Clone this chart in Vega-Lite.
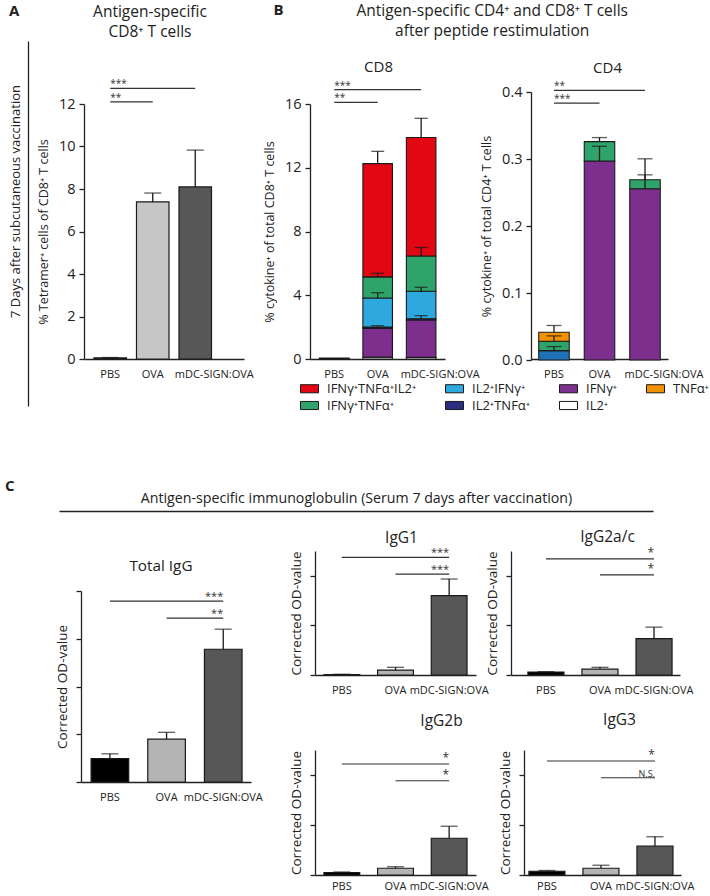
{
"$schema":"https://vega.github.io/schema/vega-lite/v6.json",
"padding":{"left":5,"top":3,"right":2,"bottom":2},
"config":{
 "font":"Open Sans",
 "view":{"stroke":null},
 "axis":{"grid":false,"domainColor":"#222","tickColor":"#222","labelColor":"#222","titleColor":"#222","domainWidth":1.3,"tickWidth":1.3,"titleFontWeight":"normal"},
 "title":{"fontWeight":"normal","color":"#222","fontSize":15}
},
"resolve":{"scale":{"color":"independent","fill":"independent"},"legend":{"color":"independent","fill":"independent"}},
"align":"none",
"spacing":10,
"vconcat":[
 {"spacing":9,"align":"none","hconcat":[
  {"spacing":8,"align":"none",
   "title":{"text":"A","anchor":"start","frame":"bounds","fontWeight":"bold","fontSize":15,"offset":-14},
   "hconcat":[
   {"width":1,"height":255,
    "data":{"values":[{"v":0}]},
    "mark":{"type":"point","size":0,"opacity":0},
    "encoding":{"y":{"field":"v","type":"quantitative","scale":{"domain":[0,1],"range":[302,-63]},"axis":{"ticks":false,"labels":false,"title":"7 Days after subcutaneous vaccination","titleFontSize":13,"titlePadding":6,"titleY":97}}}
   },
   {"width":160,"height":255,
    "title":{"text":["Antigen-specific","CD8⁺ T cells"],"fontSize":15.5,"lineHeight":20,"offset":39,"dx":-14},
    "layer":[
     {"data":{"values":[{"g":"PBS","v":0.05,"e":0.07},{"g":"OVA","v":7.39,"e":7.81},{"g":"mDC-SIGN:OVA","v":8.1,"e":9.83}]},
      "layer":[
       {"mark":{"type":"bar","stroke":"#1a1a1a","strokeWidth":1.2},
        "encoding":{
         "x":{"field":"g","type":"nominal","scale":{"domain":["PBS","OVA","mDC-SIGN:OVA"],"paddingInner":0.235,"paddingOuter":0.5,"align":0.235},"axis":{"title":null,"ticks":false,"labelAngle":0,"labelFontSize":11,"labelPadding":9,"labelOffset":{"condition":{"test":"datum.value === 'mDC-SIGN:OVA'","value":19},"value":0}}},
         "y":{"field":"v","type":"quantitative","scale":{"domain":[0,12],"nice":false},"axis":{"values":[0,2,4,6,8,10,12],"title":"% Tetramer⁺ cells of CD8⁺ T cells","titleFontSize":12.5,"labelFontSize":14.5,"tickSize":5,"labelPadding":4,"titlePadding":8}},
         "fill":{"field":"g","type":"nominal","scale":{"domain":["PBS","OVA","mDC-SIGN:OVA"],"range":["#111111","#c6c6c6","#575757"]},"legend":null}}},
       {"mark":{"type":"rule","color":"#1a1a1a","strokeWidth":1.3},"encoding":{"x":{"field":"g","type":"nominal"},"y":{"field":"v","type":"quantitative"},"y2":{"field":"e"}}},
       {"mark":{"type":"tick","orient":"horizontal","color":"#1a1a1a","thickness":1.3,"size":17},"encoding":{"x":{"field":"g","type":"nominal"},"y":{"field":"e","type":"quantitative"}}}
      ]},
     {"data":{"values":[{"a":"PBS","b":"mDC-SIGN:OVA","y":12.74,"t":"***"},{"a":"PBS","b":"OVA","y":12.1,"t":"**"}]},
      "layer":[
       {"mark":{"type":"rule","color":"#333","strokeWidth":1.2},"encoding":{"x":{"field":"a","type":"nominal"},"x2":{"field":"b"},"y":{"field":"y","type":"quantitative"}}},
       {"mark":{"type":"text","align":"left","baseline":"bottom","dy":1,"fontSize":10,"color":"#333"},"encoding":{"x":{"field":"a","type":"nominal"},"y":{"field":"y","type":"quantitative"},"text":{"field":"t"}}}
      ]},
     {"mark":{"type":"text","fontSize":13,"color":"#222","dx":-22},"encoding":{"x":{"datum":"mDC-SIGN:OVA","type":"nominal"},"y":{"datum":11.6,"type":"quantitative"},"text":{"value":"N.S."}}}
    ]}
  ]},
  {"title":{"text":"B","anchor":"start","frame":"bounds","fontWeight":"bold","fontSize":15,"offset":-14,"dx":10},
   "resolve":{"scale":{"color":"independent"},"legend":{"color":"independent"}},
   "align":"none",
   "vconcat":[
    {"title":{"text":["Antigen-specific CD4⁺ and CD8⁺ T cells","after peptide restimulation"],"anchor":"middle","frame":"bounds","fontSize":15.5,"lineHeight":20,"offset":20,"dx":6},
     "spacing":0,
     "align":"none",
     "hconcat":[
      {"width":135,"height":255,
       "title":{"text":"CD8","fontSize":15,"offset":6,"frame":"group","dx":1},
       "layer":[
        {"data":{"values":[
          {"g":"PBS","c":"IL2⁺","v":0.01,"k":1},{"g":"PBS","c":"IFNγ⁺","v":0.02,"k":2},{"g":"PBS","c":"IFNγ⁺TNFα⁺IL2⁺","v":0.03,"k":6},
          {"g":"OVA","c":"IL2⁺","v":0.12,"k":1},{"g":"OVA","c":"IFNγ⁺","v":1.8,"k":2},{"g":"OVA","c":"IL2⁺TNFα⁺","v":0.08,"k":3},{"g":"OVA","c":"IL2⁺IFNγ⁺","v":1.83,"k":4},{"g":"OVA","c":"IFNγ⁺TNFα⁺","v":1.32,"k":5},{"g":"OVA","c":"IFNγ⁺TNFα⁺IL2⁺","v":7.11,"k":6},
          {"g":"mDC-SIGN:OVA","c":"IL2⁺","v":0.1,"k":1},{"g":"mDC-SIGN:OVA","c":"IFNγ⁺","v":2.35,"k":2},{"g":"mDC-SIGN:OVA","c":"IL2⁺TNFα⁺","v":0.08,"k":3},{"g":"mDC-SIGN:OVA","c":"IL2⁺IFNγ⁺","v":1.72,"k":4},{"g":"mDC-SIGN:OVA","c":"IFNγ⁺TNFα⁺","v":2.21,"k":5},{"g":"mDC-SIGN:OVA","c":"IFNγ⁺TNFα⁺IL2⁺","v":7.44,"k":6}]},
         "mark":{"type":"bar","stroke":"#1a1a1a","strokeWidth":1.1},
         "encoding":{
          "x":{"field":"g","type":"nominal","scale":{"domain":["PBS","OVA","mDC-SIGN:OVA"],"paddingInner":0.32,"paddingOuter":0.213,"align":0.51},"axis":{"title":null,"ticks":false,"labelAngle":0,"labelFontSize":11,"labelPadding":9,"labelOffset":{"condition":{"test":"datum.value === 'mDC-SIGN:OVA'","value":19},"value":0}}},
          "y":{"field":"v","type":"quantitative","stack":"zero","scale":{"domain":[0,16],"nice":false},"axis":{"values":[0,4,8,12,16],"title":"% cytokine⁺ of total CD8⁺ T cells","titleFontSize":12.5,"labelFontSize":14.5,"tickSize":5,"labelPadding":4,"titlePadding":8}},
          "color":{"field":"c","type":"nominal","scale":{"domain":["IFNγ⁺TNFα⁺IL2⁺","IL2⁺IFNγ⁺","IFNγ⁺","TNFα⁺","IFNγ⁺TNFα⁺","IL2⁺TNFα⁺","IL2⁺"],"range":["#e30613","#2fa8df","#7d2f8e","#f39200","#2ea46a","#2b2d82","#ffffff"]},
            "legend":{"title":null,"orient":"none","legendX":-10,"legendY":275,"direction":"horizontal","columns":4,"symbolType":"M-1,-0.45H1V0.45H-1Z","symbolSize":324,"symbolStrokeColor":"#222","symbolStrokeWidth":1,"labelFontSize":13,"labelColor":"#222","columnPadding":26,"rowPadding":-3,"gridAlign":"each","labelOffset":8}},
          "order":{"field":"k","type":"quantitative"}}},
        {"data":{"values":[
          {"g":"OVA","lo":2.0,"hi":2.09},{"g":"OVA","lo":3.83,"hi":4.16},{"g":"OVA","lo":5.15,"hi":5.38},{"g":"OVA","lo":12.26,"hi":13.03},
          {"g":"mDC-SIGN:OVA","lo":2.53,"hi":2.72},{"g":"mDC-SIGN:OVA","lo":4.25,"hi":4.5},{"g":"mDC-SIGN:OVA","lo":6.46,"hi":7.0},{"g":"mDC-SIGN:OVA","lo":13.9,"hi":15.1}]},
         "layer":[
          {"mark":{"type":"rule","color":"#1a1a1a","strokeWidth":1.3},"encoding":{"x":{"field":"g","type":"nominal"},"y":{"field":"lo","type":"quantitative"},"y2":{"field":"hi"}}},
          {"mark":{"type":"tick","orient":"horizontal","color":"#1a1a1a","thickness":1.3,"size":13},"encoding":{"x":{"field":"g","type":"nominal"},"y":{"field":"hi","type":"quantitative"}}}
         ]},
        {"data":{"values":[{"a":"PBS","b":"mDC-SIGN:OVA","y":16.9,"t":"***"},{"a":"PBS","b":"OVA","y":16.1,"t":"**"}]},
         "layer":[
          {"mark":{"type":"rule","color":"#333","strokeWidth":1.2},"encoding":{"x":{"field":"a","type":"nominal"},"x2":{"field":"b"},"y":{"field":"y","type":"quantitative"}}},
          {"mark":{"type":"text","align":"left","baseline":"bottom","dy":1,"fontSize":10,"color":"#333"},"encoding":{"x":{"field":"a","type":"nominal"},"y":{"field":"y","type":"quantitative"},"text":{"field":"t"}}}
         ]},
        {"mark":{"type":"text","fontSize":13,"color":"#222","dx":-22},"encoding":{"x":{"datum":"mDC-SIGN:OVA","type":"nominal"},"y":{"datum":14.9,"type":"quantitative"},"text":{"value":"N.S."}}}
       ]},
      {"width":137,"height":255,
       "title":{"text":"CD4","fontSize":15,"offset":5,"frame":"group","dx":8},
       "layer":[
        {"data":{"values":[
          {"g":"PBS","c":"IL2⁺IFNγ⁺","v":0.014,"k":4},{"g":"PBS","c":"IFNγ⁺TNFα⁺","v":0.014,"k":5},{"g":"PBS","c":"TNFα⁺","v":0.0135,"k":7},
          {"g":"OVA","c":"IFNγ⁺","v":0.297,"k":2},{"g":"OVA","c":"IFNγ⁺TNFα⁺","v":0.029,"k":5},
          {"g":"mDC-SIGN:OVA","c":"IFNγ⁺","v":0.2555,"k":2},{"g":"mDC-SIGN:OVA","c":"IFNγ⁺TNFα⁺","v":0.0135,"k":5}]},
         "mark":{"type":"bar","stroke":"#1a1a1a","strokeWidth":1.1},
         "encoding":{
          "x":{"field":"g","type":"nominal","scale":{"domain":["PBS","OVA","mDC-SIGN:OVA"],"paddingInner":0.33,"paddingOuter":0.17,"align":0.5},"axis":{"title":null,"ticks":false,"labelAngle":0,"labelFontSize":11,"labelPadding":9,"labelOffset":{"condition":{"test":"datum.value === 'mDC-SIGN:OVA'","value":19},"value":0}}},
          "y":{"field":"v","type":"quantitative","stack":"zero","scale":{"domain":[0,0.4],"nice":false,"range":[256,-12]},"axis":{"values":[0,0.1,0.2,0.3,0.4],"format":".1f","title":"% cytokine⁺ of total CD4⁺ T cells","titleFontSize":12.5,"labelFontSize":14.5,"tickSize":5,"labelPadding":4,"titlePadding":8}},
          "color":{"condition":{"test":"datum.c === 'IL2⁺IFNγ⁺'","value":"#1f72b8"},"field":"c","type":"nominal","scale":{"domain":["IFNγ⁺TNFα⁺IL2⁺","IL2⁺IFNγ⁺","IFNγ⁺","TNFα⁺","IFNγ⁺TNFα⁺","IL2⁺TNFα⁺","IL2⁺"],"range":["#e30613","#2fa8df","#7d2f8e","#f39200","#2ea46a","#2b2d82","#ffffff"]}},
          "order":{"field":"k","type":"quantitative"}}},
        {"data":{"values":[
          {"g":"PBS","lo":0.014,"hi":0.02},{"g":"PBS","lo":0.028,"hi":0.036},{"g":"PBS","lo":0.0415,"hi":0.0515},
          {"g":"OVA","lo":0.297,"hi":0.319},{"g":"OVA","lo":0.326,"hi":0.332},
          {"g":"mDC-SIGN:OVA","lo":0.2555,"hi":0.2764},{"g":"mDC-SIGN:OVA","lo":0.269,"hi":0.3003}]},
         "layer":[
          {"mark":{"type":"rule","color":"#1a1a1a","strokeWidth":1.3},"encoding":{"x":{"field":"g","type":"nominal"},"y":{"field":"lo","type":"quantitative"},"y2":{"field":"hi"}}},
          {"mark":{"type":"tick","orient":"horizontal","color":"#1a1a1a","thickness":1.3,"size":15},"encoding":{"x":{"field":"g","type":"nominal"},"y":{"field":"hi","type":"quantitative"}}}
         ]},
        {"data":{"values":[{"a":"PBS","b":"mDC-SIGN:OVA","y":0.4025,"t":"**"},{"a":"PBS","b":"OVA","y":0.3835,"t":"***"}]},
         "layer":[
          {"mark":{"type":"rule","color":"#333","strokeWidth":1.2},"encoding":{"x":{"field":"a","type":"nominal"},"x2":{"field":"b"},"y":{"field":"y","type":"quantitative"}}},
          {"mark":{"type":"text","align":"left","baseline":"bottom","dy":1,"fontSize":10,"color":"#333"},"encoding":{"x":{"field":"a","type":"nominal"},"y":{"field":"y","type":"quantitative"},"text":{"field":"t"}}}
         ]},
        {"mark":{"type":"text","fontSize":13,"color":"#222","dx":-19},"encoding":{"x":{"datum":"mDC-SIGN:OVA","type":"nominal"},"y":{"datum":0.356,"type":"quantitative"},"text":{"value":"N.S."}}}
       ]}
     ]}
   ]}
 ]},
 {"spacing":18,"align":"none","vconcat":[
  {"width":627,"height":1,
   "title":{"text":"C","anchor":"start","frame":"group","fontWeight":"bold","fontSize":15,"dx":-23,"offset":-3},
   "data":{"values":[{"v":0}]},
   "mark":{"type":"point","size":0,"opacity":0},
   "encoding":{"x":{"field":"v","type":"quantitative","scale":{"domain":[0,1],"range":[31,625]},"axis":{"orient":"top","ticks":false,"labels":false,"title":"Antigen-specific immunoglobulin (Serum 7 days after vaccination)","titleFontSize":14.2,"titlePadding":6}}}
  },
  {"spacing":26,"align":"none","hconcat":[
   {"width":1,"height":1,"data":{"values":[{"v":0}]},"mark":{"type":"point","size":0,"opacity":0}},
   {"width":170,"height":231,
    "title":{"text":"Total IgG","fontSize":15.3,"offset":-23,"dx":-5},
    "layer":[
     {"data":{"values":[{"g":"PBS","v":0.49,"e":0.59},{"g":"OVA","v":0.9,"e":1.04},{"g":"mDC-SIGN:OVA","v":2.78,"e":3.2}]},
      "layer":[
       {"mark":{"type":"bar","stroke":"#1a1a1a","strokeWidth":1.2},
        "encoding":{
         "x":{"field":"g","type":"nominal","scale":{"domain":["PBS","OVA","mDC-SIGN:OVA"],"paddingInner":0.336,"paddingOuter":0.168,"align":0.53},"axis":{"title":null,"ticks":false,"labelAngle":0,"labelFontSize":11,"labelPadding":9}},
         "y":{"field":"v","type":"quantitative","scale":{"domain":[0,4],"nice":false,"range":[231,40]},"axis":{"values":[0,1,2,3,4],"labels":false,"title":"Corrected OD-value","titleFontSize":13.5,"tickSize":5,"titlePadding":6}},
         "fill":{"field":"g","type":"nominal","scale":{"domain":["PBS","OVA","mDC-SIGN:OVA"],"range":["#000000","#b4b4b4","#575757"]},"legend":null}}},
       {"mark":{"type":"rule","color":"#1a1a1a","strokeWidth":1.3},"encoding":{"x":{"field":"g","type":"nominal"},"y":{"field":"v","type":"quantitative"},"y2":{"field":"e"}}},
       {"mark":{"type":"tick","orient":"horizontal","color":"#1a1a1a","thickness":1.3,"size":17},"encoding":{"x":{"field":"g","type":"nominal"},"y":{"field":"e","type":"quantitative"}}}
      ]},
     {"data":{"values":[{"a":"PBS","b":"mDC-SIGN:OVA","y":3.79,"t":"***"},{"a":"OVA","b":"mDC-SIGN:OVA","y":3.43,"t":"**"}]},
      "layer":[
       {"mark":{"type":"rule","color":"#333","strokeWidth":1.2},"encoding":{"x":{"field":"a","type":"nominal"},"x2":{"field":"b"},"y":{"field":"y","type":"quantitative"}}},
       {"mark":{"type":"text","align":"right","baseline":"bottom","dy":1,"fontSize":11,"color":"#333"},"encoding":{"x":{"field":"b","type":"nominal"},"y":{"field":"y","type":"quantitative"},"text":{"field":"t"}}}
      ]},
     {"mark":{"type":"text","fontSize":14,"color":"#222","dx":-26},"encoding":{"x":{"datum":"OVA","type":"nominal"},"y":{"datum":2.43,"type":"quantitative"},"text":{"value":"N.S."}}}
    ]},
   {"spacing":17,"align":"none","vconcat":[
    {"spacing":-4,"align":"none","hconcat":[
     {"width":161,"height":124,
      "title":{"text":"IgG1","fontSize":15.5,"offset":1,"frame":"group","dx":6},
      "layer":[
       {"data":{"values":[{"g":"PBS","v":0.02,"e":0.03},{"g":"OVA","v":0.2,"e":0.31},{"g":"mDC-SIGN:OVA","v":3.2,"e":3.87}]},
        "layer":[
         {"mark":{"type":"bar","stroke":"#1a1a1a","strokeWidth":1.2},
          "encoding":{
           "x":{"field":"g","type":"nominal","scale":{"domain":["PBS","OVA","mDC-SIGN:OVA"],"paddingInner":0.333,"paddingOuter":0.167,"align":0.5},"axis":{"title":null,"ticks":false,"labelAngle":0,"labelFontSize":11,"labelPadding":9}},
           "y":{"field":"v","type":"quantitative","scale":{"domain":[0,5],"nice":false},"axis":{"values":[0,1,2,3,4,5],"labels":false,"title":"Corrected OD-value","titleFontSize":13.5,"tickSize":5,"titlePadding":6}},
           "fill":{"field":"g","type":"nominal","scale":{"domain":["PBS","OVA","mDC-SIGN:OVA"],"range":["#000000","#b4b4b4","#575757"]},"legend":null}}},
         {"mark":{"type":"rule","color":"#1a1a1a","strokeWidth":1.3},"encoding":{"x":{"field":"g","type":"nominal"},"y":{"field":"v","type":"quantitative"},"y2":{"field":"e"}}},
         {"mark":{"type":"tick","orient":"horizontal","color":"#1a1a1a","thickness":1.3,"size":17},"encoding":{"x":{"field":"g","type":"nominal"},"y":{"field":"e","type":"quantitative"}}}
        ]},
       {"data":{"values":[{"a":"PBS","b":"mDC-SIGN:OVA","y":4.74,"t":"***"},{"a":"OVA","b":"mDC-SIGN:OVA","y":4.07,"t":"***"}]},
        "layer":[
         {"mark":{"type":"rule","color":"#333","strokeWidth":1.2},"encoding":{"x":{"field":"a","type":"nominal"},"x2":{"field":"b"},"y":{"field":"y","type":"quantitative"}}},
         {"mark":{"type":"text","align":"right","baseline":"bottom","dy":1,"fontSize":11,"color":"#333"},"encoding":{"x":{"field":"b","type":"nominal"},"y":{"field":"y","type":"quantitative"},"text":{"field":"t"}}}
        ]}
      ]},
     {"width":169,"height":124,
      "title":{"text":"IgG2a/c","fontSize":15.5,"offset":1,"frame":"group","dx":12},
      "layer":[
       {"data":{"values":[{"g":"PBS","v":0.12,"e":0.14},{"g":"OVA","v":0.24,"e":0.31},{"g":"mDC-SIGN:OVA","v":1.47,"e":1.93}]},
        "layer":[
         {"mark":{"type":"bar","stroke":"#1a1a1a","strokeWidth":1.2},
          "encoding":{
           "x":{"field":"g","type":"nominal","scale":{"domain":["PBS","OVA","mDC-SIGN:OVA"],"paddingInner":0.333,"paddingOuter":0.23,"align":0.68},"axis":{"title":null,"ticks":false,"labelAngle":0,"labelFontSize":11,"labelPadding":9}},
           "y":{"field":"v","type":"quantitative","scale":{"domain":[0,5],"nice":false},"axis":{"values":[0,1,2,3,4,5],"labels":false,"title":"Corrected OD-value","titleFontSize":13.5,"tickSize":5,"titlePadding":6}},
           "fill":{"field":"g","type":"nominal","scale":{"domain":["PBS","OVA","mDC-SIGN:OVA"],"range":["#000000","#b4b4b4","#575757"]},"legend":null}}},
         {"mark":{"type":"rule","color":"#1a1a1a","strokeWidth":1.3},"encoding":{"x":{"field":"g","type":"nominal"},"y":{"field":"v","type":"quantitative"},"y2":{"field":"e"}}},
         {"mark":{"type":"tick","orient":"horizontal","color":"#1a1a1a","thickness":1.3,"size":17},"encoding":{"x":{"field":"g","type":"nominal"},"y":{"field":"e","type":"quantitative"}}}
        ]},
       {"data":{"values":[{"a":"PBS","b":"mDC-SIGN:OVA","y":4.68,"t":"*"},{"a":"OVA","b":"mDC-SIGN:OVA","y":4.04,"t":"*"}]},
        "layer":[
         {"mark":{"type":"rule","color":"#333","strokeWidth":1.2},"encoding":{"x":{"field":"a","type":"nominal"},"x2":{"field":"b"},"y":{"field":"y","type":"quantitative"}}},
         {"mark":{"type":"text","align":"right","baseline":"bottom","dy":1,"fontSize":12,"color":"#333"},"encoding":{"x":{"field":"b","type":"nominal"},"y":{"field":"y","type":"quantitative"},"text":{"field":"t"}}}
        ]}
      ]}
    ]},
    {"spacing":9,"align":"none","hconcat":[
     {"width":161,"height":125,
      "title":{"text":"IgG2b","fontSize":15.5,"offset":21,"frame":"group","dx":46},
      "layer":[
       {"data":{"values":[{"g":"PBS","v":0.1,"e":0.12},{"g":"OVA","v":0.27,"e":0.33},{"g":"mDC-SIGN:OVA","v":1.47,"e":1.95}]},
        "layer":[
         {"mark":{"type":"bar","stroke":"#1a1a1a","strokeWidth":1.2},
          "encoding":{
           "x":{"field":"g","type":"nominal","scale":{"domain":["PBS","OVA","mDC-SIGN:OVA"],"paddingInner":0.333,"paddingOuter":0.167,"align":0.5},"axis":{"title":null,"ticks":false,"labelAngle":0,"labelFontSize":11,"labelPadding":5}},
           "y":{"field":"v","type":"quantitative","scale":{"domain":[0,5],"nice":false},"axis":{"values":[0,1,2,3,4,5],"labels":false,"title":"Corrected OD-value","titleFontSize":13.5,"tickSize":5,"titlePadding":6}},
           "fill":{"field":"g","type":"nominal","scale":{"domain":["PBS","OVA","mDC-SIGN:OVA"],"range":["#000000","#b4b4b4","#575757"]},"legend":null}}},
         {"mark":{"type":"rule","color":"#1a1a1a","strokeWidth":1.3},"encoding":{"x":{"field":"g","type":"nominal"},"y":{"field":"v","type":"quantitative"},"y2":{"field":"e"}}},
         {"mark":{"type":"tick","orient":"horizontal","color":"#1a1a1a","thickness":1.3,"size":17},"encoding":{"x":{"field":"g","type":"nominal"},"y":{"field":"e","type":"quantitative"}}}
        ]},
       {"data":{"values":[{"a":"PBS","b":"mDC-SIGN:OVA","y":4.44,"t":"*"},{"a":"OVA","b":"mDC-SIGN:OVA","y":3.77,"t":"*"}]},
        "layer":[
         {"mark":{"type":"rule","color":"#333","strokeWidth":1.2},"encoding":{"x":{"field":"a","type":"nominal"},"x2":{"field":"b"},"y":{"field":"y","type":"quantitative"}}},
         {"mark":{"type":"text","align":"right","baseline":"bottom","dy":1,"fontSize":12,"color":"#333"},"encoding":{"x":{"field":"b","type":"nominal"},"y":{"field":"y","type":"quantitative"},"text":{"field":"t"}}}
        ]}
      ]},
     {"width":157,"height":125,
      "title":{"text":"IgG3","fontSize":15.5,"offset":21,"frame":"group","dx":17},
      "layer":[
       {"data":{"values":[{"g":"PBS","v":0.15,"e":0.18},{"g":"OVA","v":0.27,"e":0.39},{"g":"mDC-SIGN:OVA","v":1.16,"e":1.53}]},
        "layer":[
         {"mark":{"type":"bar","stroke":"#1a1a1a","strokeWidth":1.2},
          "encoding":{
           "x":{"field":"g","type":"nominal","scale":{"domain":["PBS","OVA","mDC-SIGN:OVA"],"paddingInner":0.333,"paddingOuter":0.12,"align":0.38},"axis":{"title":null,"ticks":false,"labelAngle":0,"labelFontSize":11,"labelPadding":5}},
           "y":{"field":"v","type":"quantitative","scale":{"domain":[0,5],"nice":false},"axis":{"values":[0,1,2,3,4,5],"labels":false,"title":"Corrected OD-value","titleFontSize":13.5,"tickSize":5,"titlePadding":6}},
           "fill":{"field":"g","type":"nominal","scale":{"domain":["PBS","OVA","mDC-SIGN:OVA"],"range":["#000000","#b4b4b4","#575757"]},"legend":null}}},
         {"mark":{"type":"rule","color":"#1a1a1a","strokeWidth":1.3},"encoding":{"x":{"field":"g","type":"nominal"},"y":{"field":"v","type":"quantitative"},"y2":{"field":"e"}}},
         {"mark":{"type":"tick","orient":"horizontal","color":"#1a1a1a","thickness":1.3,"size":17},"encoding":{"x":{"field":"g","type":"nominal"},"y":{"field":"e","type":"quantitative"}}}
        ]},
       {"data":{"values":[{"a":"PBS","b":"mDC-SIGN:OVA","y":4.56,"t":"*","f":12},{"a":"OVA","b":"mDC-SIGN:OVA","y":3.89,"t":"N.S.","f":9}]},
        "layer":[
         {"mark":{"type":"rule","color":"#333","strokeWidth":1.2},"encoding":{"x":{"field":"a","type":"nominal"},"x2":{"field":"b"},"y":{"field":"y","type":"quantitative"}}},
         {"mark":{"type":"text","align":"right","baseline":"bottom","dy":1,"color":"#333"},"encoding":{"x":{"field":"b","type":"nominal"},"y":{"field":"y","type":"quantitative"},"text":{"field":"t"},"size":{"field":"f","type":"quantitative","scale":null}}}
        ]}
      ]}
    ]}
   ]}
  ]}
 ]}
]
}
